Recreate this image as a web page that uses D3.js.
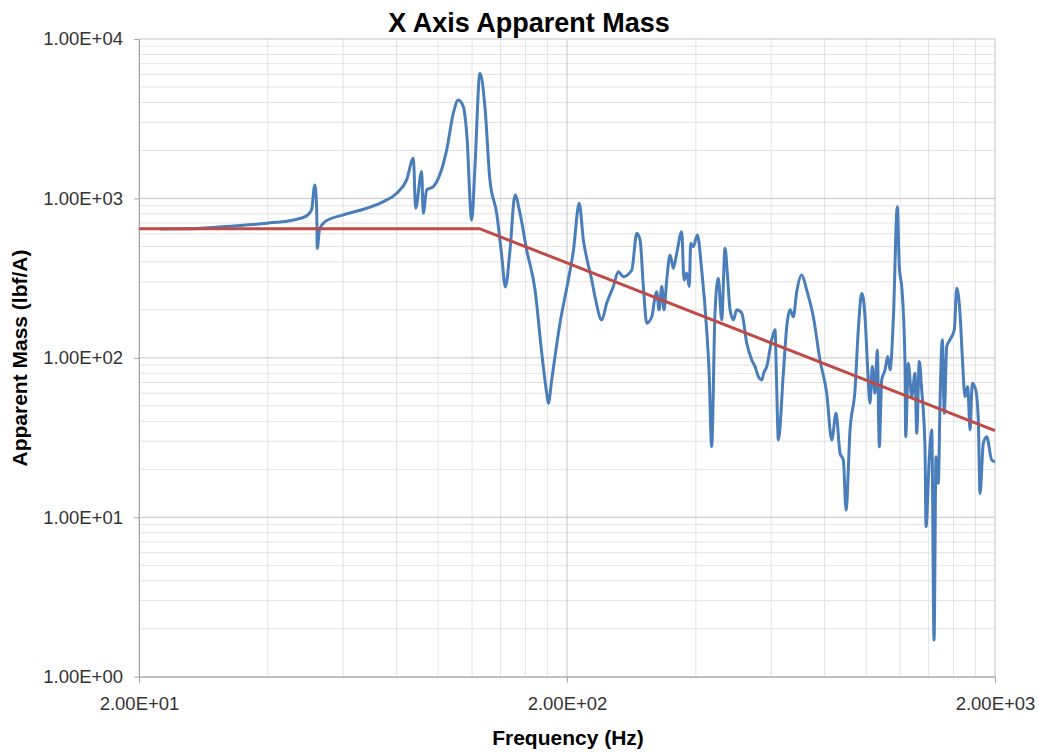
<!DOCTYPE html>
<html>
<head>
<meta charset="utf-8">
<script src="https://cdn.jsdelivr.net/npm/d3@7"></script>
<style>
  html, body { margin: 0; padding: 0; background: #fff; }
  svg { display: block; font-family: "Liberation Sans", Arial, sans-serif; }
</style>
</head>
<body>
<svg id="chart" width="1039" height="752"></svg>
<script>
// ---- data ----
const title = "X Axis Apparent Mass";
const xLabel = "Frequency (Hz)";
const yLabel = "Apparent Mass (lbf/A)";

const xTicks = [20, 200, 2000];
const yTicks = [1, 10, 100, 1000, 10000];

const freq = [22.4, 26.6, 33.2, 39.8, 45.9, 49.3, 50.6, 51.5, 52.0, 52.2,
  52.8, 54.4, 60.0, 68.1, 74.5, 80.0, 84.4, 87.5, 88.6, 91.5,
  92.3, 94.0, 97.4, 104.7, 108.5, 111.4, 114.5, 116.6, 119.8, 121.9,
  125.2, 128.6, 132.1, 137.0, 140.7, 143.6, 147.2, 151.2, 155.3, 161.0,
  168.4, 174.6, 179.3, 180.9, 184.2, 192.6, 201.4, 206.9, 213.6, 218.4,
  222.4, 228.5, 232.5, 241.1, 247.6, 256.6, 263.6, 270.7, 283.4, 291.1,
  296.3, 301.6, 307.2, 315.6, 321.2, 324.0, 328.1, 333.1, 337.0, 342.0,
  348.2, 354.4, 360.9, 370.7, 375.4, 380.9, 386.2, 389.1, 394.6, 403.2,
  412.8, 424.0, 429.4, 435.6, 443.4, 451.4, 459.7, 468.0, 473.8, 480.8,
  489.5, 498.4, 512.0, 525.9, 540.4, 550.2, 559.9, 570.3, 577.4, 585.8,
  601.7, 612.4, 617.4, 623.5, 640.5, 652.3, 663.8, 675.8, 688.3, 707.0,
  726.1, 752.6, 780.0, 808.8, 831.0, 850.4, 868.9, 884.5, 897.4, 916.9,
  941.8, 958.6, 976.4, 994.0, 1008.4, 1020.8, 1033.6, 1048.8, 1061.8, 1073.4,
  1087.2, 1106.8, 1123.0, 1137.0, 1157.3, 1182.5, 1195.2, 1212.7, 1232.4, 1237.0,
  1254.5, 1277.8, 1300.7, 1312.6, 1331.0, 1348.2, 1372.2, 1380.1, 1404.9, 1423.1,
  1440.8, 1456.2, 1474.4, 1487.8, 1506.4, 1522.6, 1542.4, 1570.2, 1606.8, 1627.7,
  1656.8, 1677.4, 1702.2, 1727.0, 1748.8, 1770.2, 1802.8, 1828.2, 1845.3, 1878.2,
  1912.7, 1964.8, 2000];

const mass = [644, 646, 672, 699, 733, 777, 847, 1215, 888, 487,
  635, 715, 788, 868, 955, 1078, 1307, 1787, 868, 1473,
  808, 1131, 1186, 2015, 3423, 4149, 3766, 2564, 733, 1583,
  6102, 3766, 1307, 808, 442, 278, 475, 1052, 808, 475,
  267, 107, 60.0, 51.9, 72.7, 165, 308, 464, 933, 549,
  422, 308, 242, 173, 220, 280, 347, 323, 356, 605,
  549, 280, 165, 181, 242, 260, 200, 280, 200, 308,
  442, 365, 453, 619, 308, 340, 280, 524, 498, 590,
  356, 150, 84.0, 27.7, 191, 316, 173, 487, 340, 200,
  173, 200, 191, 124, 97.0, 88.1, 76.2, 72.7, 81.6, 88.1,
  130, 150, 72.7, 30.5, 80.1, 157, 200, 181, 260, 331,
  267, 181, 97.0, 60.0, 30.5, 44.9, 25.2, 22.9, 11.1, 35.3,
  62.9, 150, 254, 181, 84.0, 51.9, 88.1, 60.0, 112, 27.7,
  72.7, 84.0, 102, 84.0, 173, 888, 373, 267, 92.5, 32.0,
  92.5, 57.1, 80.1, 33.7, 94.7, 62.9, 27.7, 8.73, 24.0, 35.3,
  1.70, 24.0, 16.3, 51.9, 130, 44.9, 118, 130, 150, 273,
  191, 102, 57.1, 66.0, 35.3, 69.3, 62.9, 40.8, 14.1, 29.1,
  32.0, 22.9, 22.3];

const limitFreq = [20, 125, 2000];
const limitMass = [646, 646, 35];

// ---- layout ----
const svg = d3.select("#chart");
const L = 139, R = 995, T = 39, B = 676.7;

const x = d3.scaleLog().domain([20, 2000]).range([L, R]);
const y = d3.scaleLog().domain([1, 10000]).range([B, T]);

const fmt = v => {
  const s = v.toExponential(2).toUpperCase();
  const m = s.match(/^(.*E)([+-])(\d+)$/);
  return m[1] + m[2] + m[3].padStart(2, "0");
};

// minor grid values
const xMinor = [];
[20, 200].forEach(d => { for (let k = 2; k <= 9; k++) xMinor.push(d * k); });
const yMinor = [];
[1, 10, 100, 1000].forEach(d => { for (let k = 2; k <= 9; k++) yMinor.push(d * k); });

const grid = svg.append("g");
grid.selectAll(".ymin").data(yMinor).enter().append("line")
  .attr("x1", L).attr("x2", R).attr("y1", d => y(d)).attr("y2", d => y(d))
  .attr("stroke", "#e3e3e3").attr("stroke-width", 1);
grid.selectAll(".xmin").data(xMinor).enter().append("line")
  .attr("y1", T).attr("y2", B).attr("x1", d => x(d)).attr("x2", d => x(d))
  .attr("stroke", "#e3e3e3").attr("stroke-width", 1);
grid.selectAll(".ymaj").data(yTicks).enter().append("line")
  .attr("x1", L).attr("x2", R).attr("y1", d => y(d)).attr("y2", d => y(d))
  .attr("stroke", "#c4c4c4").attr("stroke-width", 1);
grid.selectAll(".xmaj").data(xTicks).enter().append("line")
  .attr("y1", T).attr("y2", B).attr("x1", d => x(d)).attr("x2", d => x(d))
  .attr("stroke", "#c4c4c4").attr("stroke-width", 1);

// axes
const yAxis = svg.append("g").attr("transform", `translate(${L},0)`)
  .call(d3.axisLeft(y).tickValues(yTicks).tickFormat(fmt).tickSizeInner(5).tickSizeOuter(0).tickPadding(11));
const xAxis = svg.append("g").attr("transform", `translate(0,${B})`)
  .call(d3.axisBottom(x).tickValues(xTicks).tickFormat(fmt).tickSizeInner(6).tickSizeOuter(0).tickPadding(14));
[yAxis, xAxis].forEach(a => {
  a.select(".domain").attr("stroke", "#a6a6a6");
  a.selectAll(".tick line").attr("stroke", "#a6a6a6");
  a.selectAll(".tick text").attr("fill", "#333").style("font-size", "18.5px")
    .style("font-family", "'Liberation Sans', Arial, sans-serif");
});

// series
const line = d3.line().x(d => x(d[0])).y(d => y(d[1])).curve(d3.curveMonotoneX);
svg.append("path")
  .datum(freq.map((f, i) => [f, mass[i]]))
  .attr("d", line).attr("fill", "none")
  .attr("stroke", "#4a7ebb").attr("stroke-width", 3)
  .attr("stroke-linejoin", "round");
const straight = d3.line().x(d => x(d[0])).y(d => y(d[1]));
svg.append("path")
  .datum(limitFreq.map((f, i) => [f, limitMass[i]]))
  .attr("d", straight).attr("fill", "none")
  .attr("stroke", "#be4b48").attr("stroke-width", 3);

// titles
svg.append("text").attr("x", 529).attr("y", 32).attr("text-anchor", "middle")
  .style("font-size", "27px").style("font-weight", "bold").attr("fill", "#000").text(title);
svg.append("text").attr("x", 568).attr("y", 745).attr("text-anchor", "middle")
  .style("font-size", "21px").style("font-weight", "bold").attr("fill", "#000").text(xLabel);
svg.append("text").attr("transform", "translate(27,358) rotate(-90)").attr("text-anchor", "middle")
  .style("font-size", "21px").style("font-weight", "bold").attr("fill", "#000").text(yLabel);
</script>
</body>
</html>
